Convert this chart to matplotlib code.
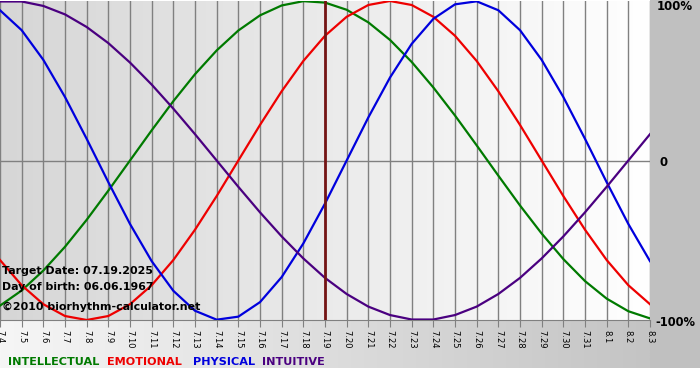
import numpy as np
import matplotlib
matplotlib.use("Agg")
import matplotlib.pyplot as plt

# days shown on the x axis
days = ["7.4", "7.5", "7.6", "7.7", "7.8", "7.9", "7.10", "7.11", "7.12", "7.13",
        "7.14", "7.15", "7.16", "7.17", "7.18", "7.19", "7.20", "7.21", "7.22", "7.23",
        "7.24", "7.25", "7.26", "7.27", "7.28", "7.29", "7.30", "7.31", "8.1", "8.2", "8.3"]
target_day = "7.19"

# cycle values per day (-1 .. 1)
intellectual = [-0.910, -0.815, -0.690, -0.541, -0.372, -0.189, 0.0, 0.189, 0.372, 0.541,
                0.690, 0.815, 0.910, 0.972, 0.999, 0.990, 0.945, 0.866, 0.756, 0.618,
                0.458, 0.282, 0.095, -0.095, -0.282, -0.458, -0.618, -0.756, -0.866, -0.945, -0.990]
emotional = [-0.624, -0.782, -0.901, -0.975, -1.0, -0.975, -0.901, -0.782, -0.624, -0.434,
             -0.223, 0.0, 0.223, 0.434, 0.624, 0.782, 0.901, 0.975, 1.0, 0.975,
             0.901, 0.782, 0.624, 0.434, 0.223, 0.0, -0.223, -0.434, -0.624, -0.782, -0.901]
physical = [0.942, 0.817, 0.631, 0.398, 0.136, -0.136, -0.398, -0.631, -0.817, -0.942,
            -0.998, -0.979, -0.888, -0.731, -0.520, -0.270, 0.0, 0.270, 0.520, 0.731,
            0.888, 0.979, 0.998, 0.942, 0.817, 0.631, 0.398, 0.136, -0.136, -0.398, -0.631]
intuitive = [0.997, 0.997, 0.969, 0.916, 0.837, 0.736, 0.614, 0.476, 0.325, 0.165,
             0.0, -0.165, -0.325, -0.476, -0.614, -0.736, -0.837, -0.916, -0.969, -0.997,
             -0.997, -0.969, -0.916, -0.837, -0.736, -0.614, -0.476, -0.325, -0.165, 0.0, 0.165]

series = [("INTELLECTUAL", intellectual, "#007a00"),
          ("EMOTIONAL", emotional, "#ee0000"),
          ("PHYSICAL", physical, "#0000dd"),
          ("INTUITIVE", intuitive, "#4a0080")]

W, H = 700, 380
fig = plt.figure(figsize=(7, 3.8), dpi=100)
fig.patch.set_facecolor("white")

# background: bottom band gradient + right grey margin
bg = fig.add_axes([0, 0, 1, 1])
bg.set_xlim(0, W)
bg.set_ylim(H, 0)
bg.axis("off")
grad = np.linspace(0, 1, 256).reshape(1, -1)
bg.imshow(grad, cmap=matplotlib.colors.LinearSegmentedColormap.from_list("b", ["#f6f6f6", "#c4c4c4"]),
          extent=[0, 650, 368, 320], aspect="auto")
bg.add_patch(plt.Rectangle((650, 0), 50, 368, color="#c0c0c0", lw=0))

# plot area
ax = fig.add_axes([0, 1 - 320 / H, 650 / W, 319 / H])
x = np.arange(len(days))
ax.set_xlim(0, len(days) - 1)
ax.set_ylim(-1.0, 1.0)
ax.imshow(grad, cmap=matplotlib.colors.LinearSegmentedColormap.from_list("p", ["#d6d6d6", "#ffffff"]),
          extent=[0, len(days) - 1, -1, 1], aspect="auto", zorder=0)

for xi in x:
    ax.axvline(xi, color="#808080", lw=1, zorder=1)
ax.axhline(0, color="#808080", lw=1, zorder=1)

for name, vals, col in series:
    ax.plot(x, vals, color=col, lw=1.6, zorder=3, solid_joinstyle="round")

ax.axvline(days.index(target_day), color="#741414", lw=2, zorder=4)

for s in ["top", "right", "left"]:
    ax.spines[s].set_visible(False)
ax.spines["bottom"].set_color("#808080")
ax.set_yticks([])
ax.set_xticks(x)
ax.set_xticklabels(days, rotation=270, fontsize=6)
ax.tick_params(axis="x", length=5, color="#808080", pad=2)

# right labels
fig.text(657 / W, 1 - 7 / H, "100%", fontsize=8.5, fontweight="bold", va="center", ha="left")
fig.text(659 / W, 1 - 162 / H, "0", fontsize=8.5, fontweight="bold", va="center", ha="left")
fig.text(655 / W, 1 - 322 / H, "-100%", fontsize=8.3, fontweight="bold", va="center", ha="left")

# info text
fig.text(2 / W, 1 - 271 / H, "Target Date: 07.19.2025", fontsize=7.9, fontweight="bold", va="center")
fig.text(2 / W, 1 - 287 / H, "Day of birth: 06.06.1967", fontsize=7.9, fontweight="bold", va="center")
fig.text(2 / W, 1 - 307 / H, "\u00a92010 biorhythm-calculator.net", fontsize=7.9, fontweight="bold", va="center")

# legend text
lx = [8, 107, 193, 262]
for (name, vals, col), px in zip(series, lx):
    fig.text(px / W, 1 - 362 / H, name, fontsize=8.1, fontweight="bold", color=col, va="center", ha="left")

fig.savefig("out.png", dpi=100)
